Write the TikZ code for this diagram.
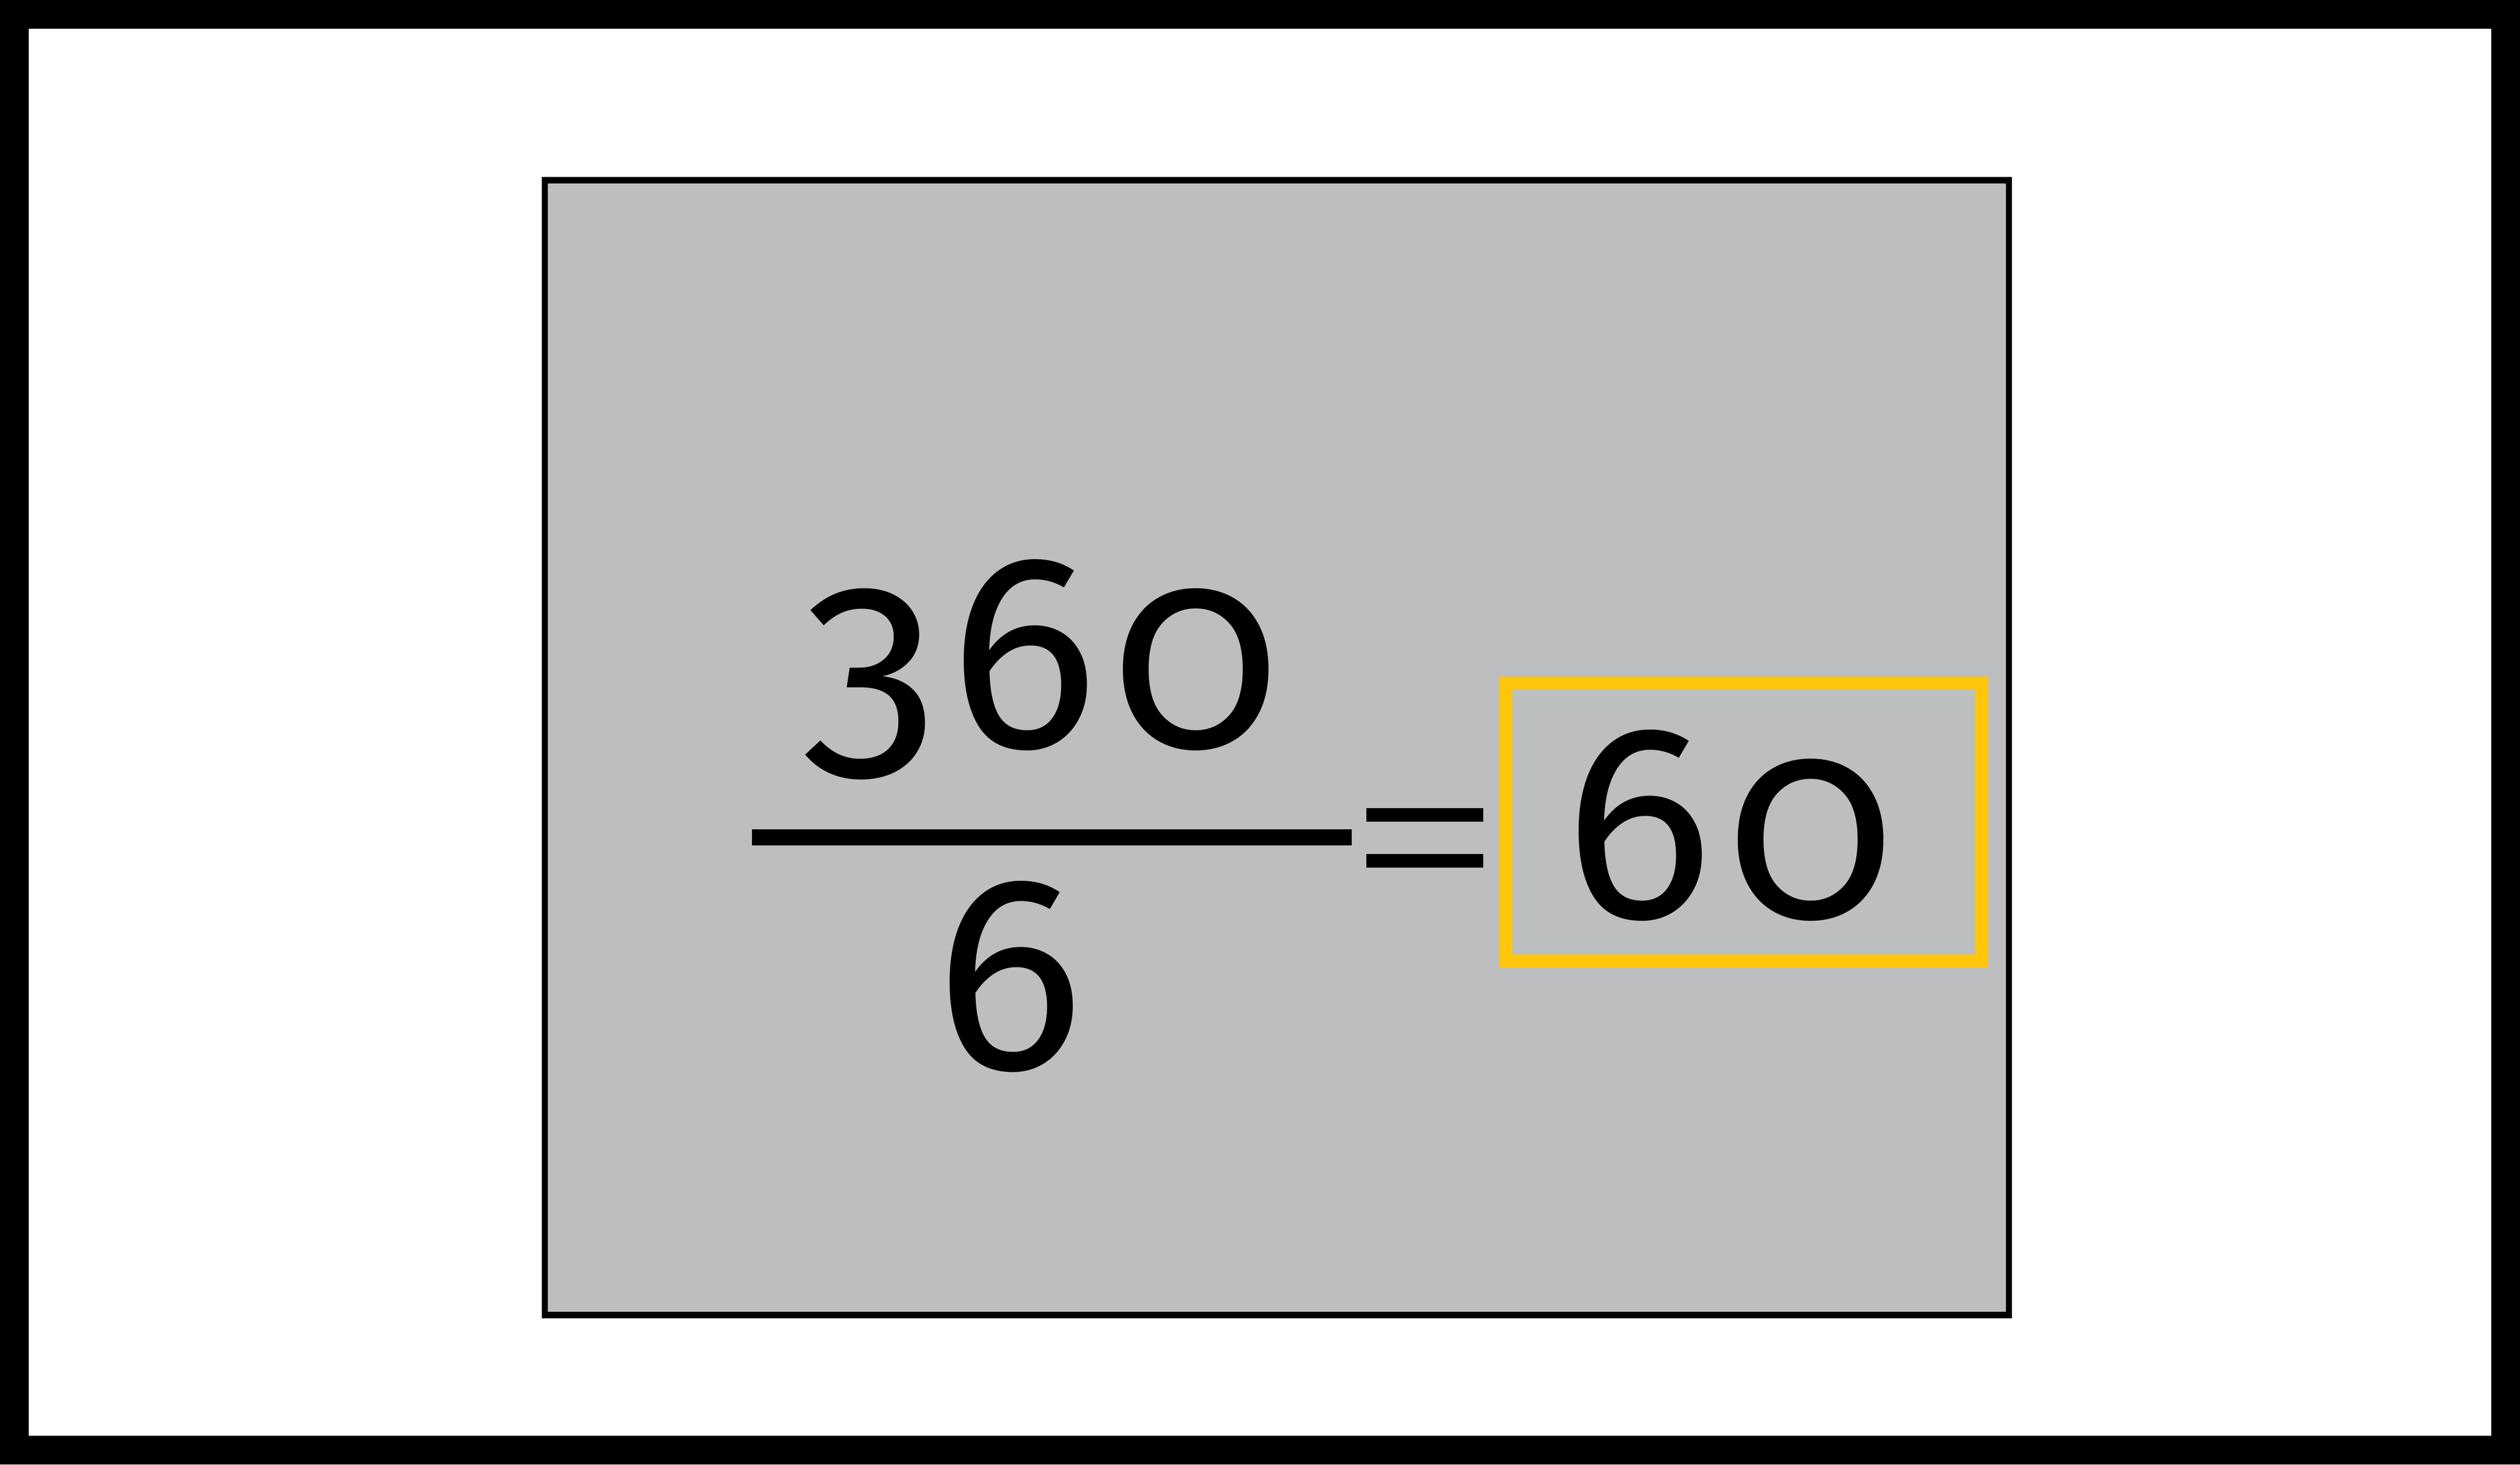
\documentclass[tikz,border=0pt]{standalone}
\usepackage{fontspec}
\setmainfont[Numbers=OldStyle]{Fira Sans}
\newfontfamily\digitfont[Numbers=OldStyle, LetterSpace=5]{Fira Sans}
\usepackage{xcolor}
\definecolor{panelgrey}{HTML}{BDBEC0}
\definecolor{answeryellow}{HTML}{FFC60B}
\usetikzlibrary{positioning}

\begin{document}
\begin{tikzpicture}[
		digits/.style={anchor=base, inner sep=0pt, font=\digitfont\fontsize{49}{49}\selectfont},
		bar/.style={line width=0.1cm}
	]
	\useasboundingbox (0,0) rectangle (15.68,9.11);
	% outer frame and grey panel
	\draw[line width=0.18cm] (0.09,0.09) rectangle (15.59,9.02);
	\draw[fill=panelgrey, line width=0.04cm] (3.39,0.93) rectangle (12.50,7.99);
	% the fraction
	\node[digits] (num) at (6.48,4.46) {360};
	\node[digits] (den) at (6.28,2.46) {6};
	\coordinate (bar-l) at (4.68,3.90);
	\coordinate (bar-r) at (8.41,3.90);
	\draw[bar] (bar-l) -- (bar-r);
	% equals sign
	\foreach \y in {4.04,3.755}{
		\draw[line width=0.085cm] (8.50,\y) -- (9.23,\y);
	}
	% the answer
	\node[draw=answeryellow, line width=0.08cm, minimum width=2.96cm, minimum height=1.73cm] (ans-box) at (10.85,3.995) {};
	\node[digits] (ans) at (10.76,3.40) {60};
\end{tikzpicture}
\end{document}
